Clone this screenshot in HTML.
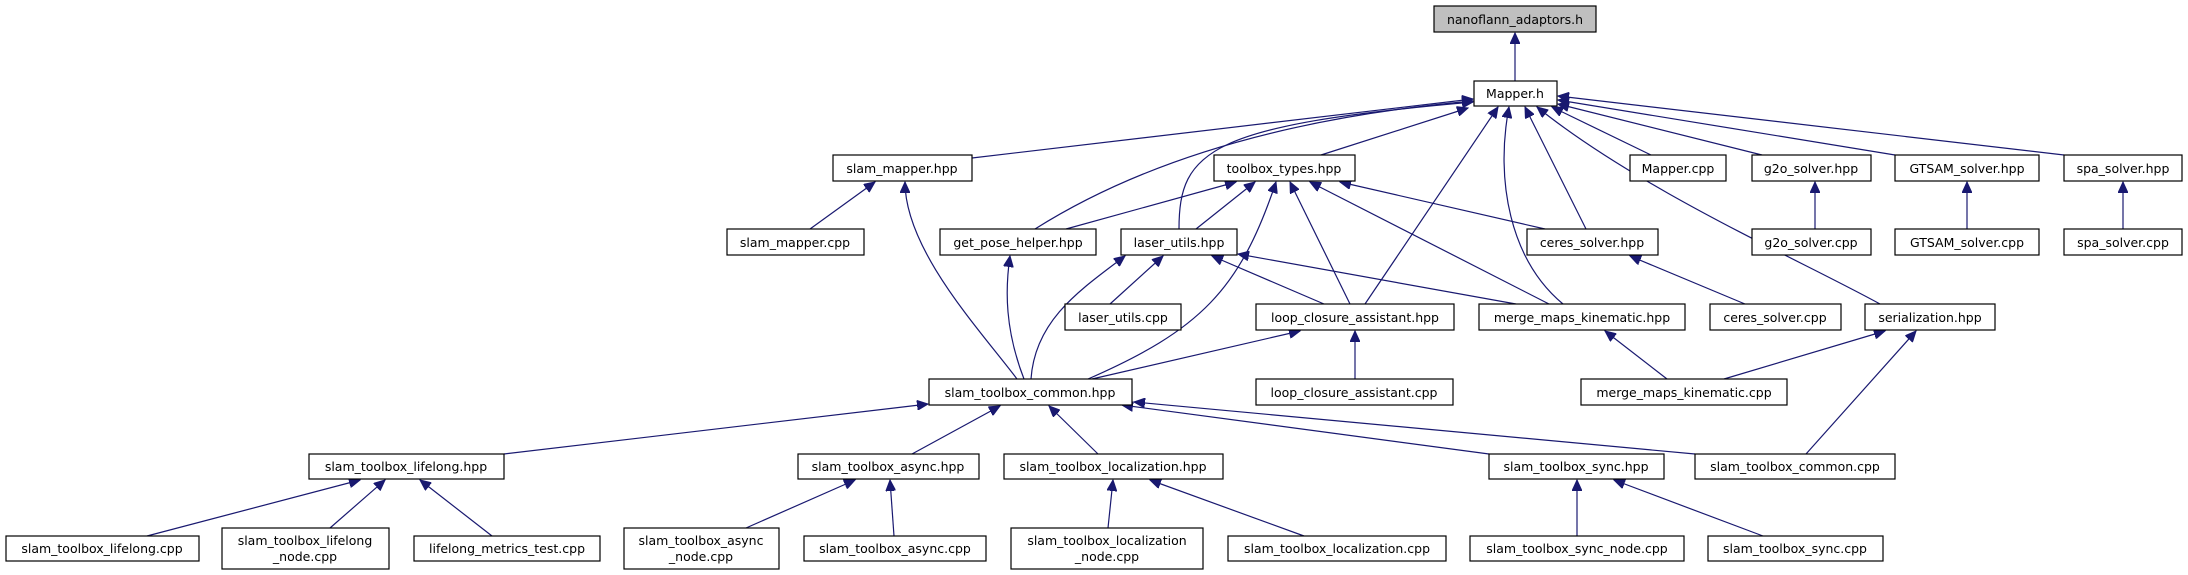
<!DOCTYPE html>
<html><head><meta charset="utf-8"><style>
html,body{margin:0;padding:0;background:#fff;}
svg{display:block;}
text{font-family:"DejaVu Sans","Liberation Sans",sans-serif;font-size:12.5px;fill:#000;}
rect{fill:#fff;stroke:#000;stroke-width:1.2;}
path{fill:none;stroke:#191970;stroke-width:1.2;}
</style></head><body>
<svg width="2188" height="575" viewBox="0 0 2188 575" xmlns="http://www.w3.org/2000/svg">
<defs>
<marker id="a" markerUnits="userSpaceOnUse" markerWidth="12" markerHeight="10" refX="11" refY="5" orient="auto">
<path d="M0,0 L11,5 L0,10 Z" style="fill:#191970;stroke:#191970;stroke-width:1"/>
</marker>
</defs>
<g marker-end="url(#a)">
<path d="M1515,81 L1515,33"/>
<path d="M972,158 L1473,99"/>
<path d="M1035,229 Q1200,125 1473,101"/>
<path d="M1179,229 C1179,150 1210,125 1473,102"/>
<path d="M1321,155 L1468,108"/>
<path d="M1365,304 L1498,107"/>
<path d="M1563,304 C1510,260 1495,180 1509,107"/>
<path d="M1586,229 L1525,107"/>
<path d="M1880,304 C1800,260 1640,190 1537,107"/>
<path d="M1651,155 L1552,107"/>
<path d="M1762,155 L1558,104"/>
<path d="M1895,155 L1558,100"/>
<path d="M2064,155 L1558,96"/>
<path d="M1066,229 L1236,182"/>
<path d="M1196,229 L1255,182"/>
<path d="M1088,379 C1200,330 1240,290 1276,182"/>
<path d="M1350,304 L1290,182"/>
<path d="M1549,304 L1310,182"/>
<path d="M1545,229 L1340,182"/>
<path d="M1815,229 L1815,182"/>
<path d="M1967,229 L1967,182"/>
<path d="M2123,229 L2123,182"/>
<path d="M810,229 L875,182"/>
<path d="M1017,379 C980,330 905,250 905,182"/>
<path d="M1024,379 C1005,330 1005,290 1010,256"/>
<path d="M1031,379 C1035,320 1080,290 1125,256"/>
<path d="M1110,304 L1163,256"/>
<path d="M1324,304 L1212,256"/>
<path d="M1516,304 L1238,254"/>
<path d="M1745,304 L1630,256"/>
<path d="M1355,379 L1355,331"/>
<path d="M1092,379 L1300,331"/>
<path d="M1667,379 L1605,331"/>
<path d="M1724,379 L1885,331"/>
<path d="M1806,454 L1916,331"/>
<path d="M504,454 L928,404"/>
<path d="M912,454 L1000,406"/>
<path d="M1098,454 L1049,406"/>
<path d="M1489,454 L1122,405"/>
<path d="M1695,454 L1134,402"/>
<path d="M147,536 L360,480"/>
<path d="M330,528 L385,480"/>
<path d="M492,536 L420,480"/>
<path d="M746,528 L855,480"/>
<path d="M894,536 L890,480"/>
<path d="M1108,528 L1113,480"/>
<path d="M1304,536 L1150,480"/>
<path d="M1577,536 L1577,480"/>
<path d="M1763,536 L1614,480"/>
</g>
<g text-anchor="middle">
<rect x="1434" y="6" width="162" height="26" style="fill:#bfbfbf"/><text x="1515" y="24">nanoflann_adaptors.h</text>
<rect x="1474" y="81" width="83" height="25"/><text x="1515" y="98">Mapper.h</text>
<rect x="833" y="155" width="139" height="26"/><text x="902" y="173">slam_mapper.hpp</text>
<rect x="1214" y="155" width="141" height="26"/><text x="1284" y="173">toolbox_types.hpp</text>
<rect x="1630" y="155" width="96" height="26"/><text x="1678" y="173">Mapper.cpp</text>
<rect x="1752" y="155" width="119" height="26"/><text x="1811" y="173">g2o_solver.hpp</text>
<rect x="1895" y="155" width="144" height="26"/><text x="1967" y="173">GTSAM_solver.hpp</text>
<rect x="2064" y="155" width="118" height="26"/><text x="2123" y="173">spa_solver.hpp</text>
<rect x="727" y="229" width="137" height="26"/><text x="795" y="247">slam_mapper.cpp</text>
<rect x="940" y="229" width="156" height="26"/><text x="1018" y="247">get_pose_helper.hpp</text>
<rect x="1121" y="229" width="116" height="26"/><text x="1179" y="247">laser_utils.hpp</text>
<rect x="1527" y="229" width="131" height="26"/><text x="1592" y="247">ceres_solver.hpp</text>
<rect x="1752" y="229" width="119" height="26"/><text x="1811" y="247">g2o_solver.cpp</text>
<rect x="1895" y="229" width="144" height="26"/><text x="1967" y="247">GTSAM_solver.cpp</text>
<rect x="2064" y="229" width="118" height="26"/><text x="2123" y="247">spa_solver.cpp</text>
<rect x="1065" y="304" width="116" height="26"/><text x="1123" y="322">laser_utils.cpp</text>
<rect x="1256" y="304" width="198" height="26"/><text x="1355" y="322">loop_closure_assistant.hpp</text>
<rect x="1479" y="304" width="206" height="26"/><text x="1582" y="322">merge_maps_kinematic.hpp</text>
<rect x="1710" y="304" width="131" height="26"/><text x="1775" y="322">ceres_solver.cpp</text>
<rect x="1865" y="304" width="130" height="26"/><text x="1930" y="322">serialization.hpp</text>
<rect x="929" y="379" width="203" height="26"/><text x="1030" y="397">slam_toolbox_common.hpp</text>
<rect x="1256" y="379" width="197" height="26"/><text x="1354" y="397">loop_closure_assistant.cpp</text>
<rect x="1581" y="379" width="206" height="26"/><text x="1684" y="397">merge_maps_kinematic.cpp</text>
<rect x="309" y="454" width="195" height="25"/><text x="406" y="471">slam_toolbox_lifelong.hpp</text>
<rect x="798" y="454" width="181" height="25"/><text x="888" y="471">slam_toolbox_async.hpp</text>
<rect x="1004" y="454" width="219" height="25"/><text x="1113" y="471">slam_toolbox_localization.hpp</text>
<rect x="1489" y="454" width="175" height="25"/><text x="1576" y="471">slam_toolbox_sync.hpp</text>
<rect x="1695" y="454" width="200" height="25"/><text x="1795" y="471">slam_toolbox_common.cpp</text>
<rect x="6" y="536" width="193" height="25"/><text x="102" y="553">slam_toolbox_lifelong.cpp</text>
<rect x="222" y="528" width="167" height="41"/><text x="305" y="545">slam_toolbox_lifelong</text><text x="305" y="561">_node.cpp</text>
<rect x="414" y="536" width="186" height="25"/><text x="507" y="553">lifelong_metrics_test.cpp</text>
<rect x="624" y="528" width="155" height="41"/><text x="701" y="545">slam_toolbox_async</text><text x="701" y="561">_node.cpp</text>
<rect x="804" y="536" width="182" height="25"/><text x="895" y="553">slam_toolbox_async.cpp</text>
<rect x="1011" y="528" width="192" height="41"/><text x="1107" y="545">slam_toolbox_localization</text><text x="1107" y="561">_node.cpp</text>
<rect x="1228" y="536" width="218" height="25"/><text x="1337" y="553">slam_toolbox_localization.cpp</text>
<rect x="1470" y="536" width="214" height="25"/><text x="1577" y="553">slam_toolbox_sync_node.cpp</text>
<rect x="1708" y="536" width="175" height="25"/><text x="1795" y="553">slam_toolbox_sync.cpp</text>
</g>
</svg>
</body></html>
